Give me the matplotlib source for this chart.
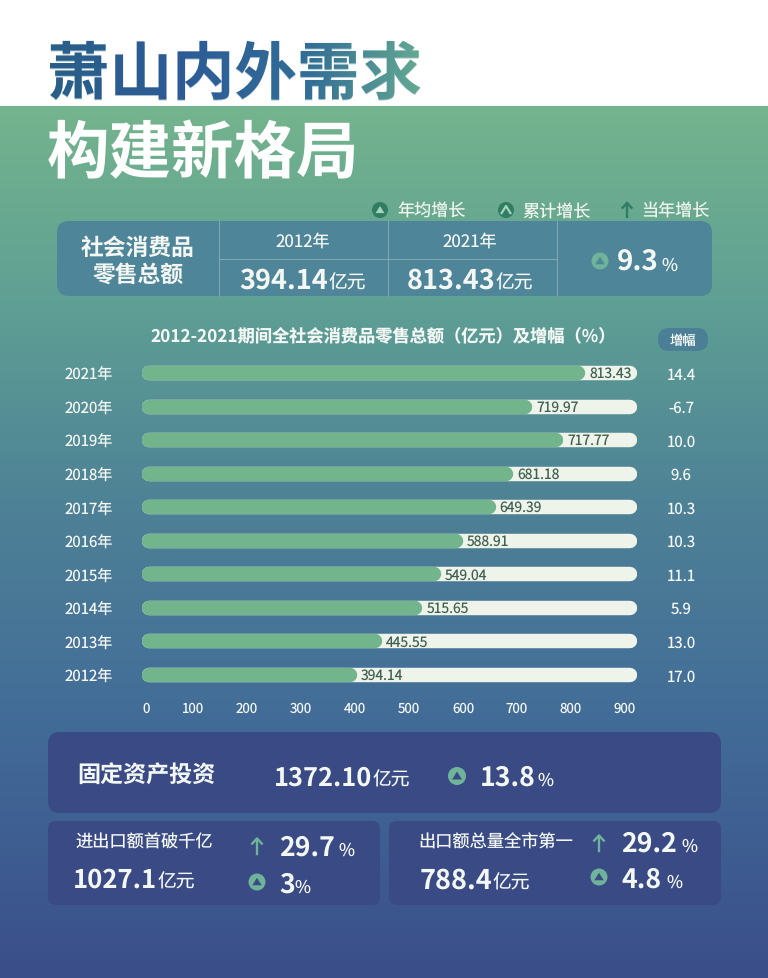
import numpy as np
import matplotlib
matplotlib.use("Agg")
import matplotlib.pyplot as plt
from matplotlib.patches import FancyBboxPatch, Circle, Polygon, PathPatch
from matplotlib.textpath import TextPath
from matplotlib.font_manager import FontProperties
from matplotlib.transforms import Affine2D

plt.rcParams['font.family'] = ['Noto Sans CJK SC', 'DejaVu Sans']
plt.rcParams['text.hinting'] = 'none'

W, H = 768, 979

# chart data
years = ['2021年', '2020年', '2019年', '2018年', '2017年', '2016年', '2015年', '2014年', '2013年', '2012年']
totals = [813.43, 719.97, 717.77, 681.18, 649.39, 588.91, 549.04, 515.65, 445.55, 394.14]
# lengths as drawn in the picture (2019 and 2020 do not follow their labels)
bar_lengths = [813, 716, 773, 681, 649, 589, 549, 515, 440, 394]
growth = ['14.4', '-6.7', '10.0', '9.6', '10.3', '10.3', '11.1', '5.9', '13.0', '17.0']
tick_labels = ['0', '100', '200', '300', '400', '500', '600', '700', '800', '900']
tick_px = [146, 193, 247, 301, 355, 409, 463, 517, 571, 625]

WHITE = '#f4f8f4'
GREEN = '#72b48c'
TRACK = '#eef4ea'
ICON_LIGHT = '#6fb39b'
ICON_DARK = '#2f7d62'
CARD_TOP = '#4f8598'
CARD_BOTTOM = '#3a4a84'

fig = plt.figure(figsize=(W / 100, H / 100), dpi=100)
bg = fig.add_axes([0, 0, 1, 1], zorder=0)

# background gradient, white band on top
stop_y = [107, 300, 500, 720, 979]
stop_c = np.array([[116, 180, 141], [95, 160, 148], [78, 130, 150], [66, 108, 152], [58, 78, 138]]) / 255
rows = np.arange(H)
grad = np.stack([np.interp(rows, stop_y, stop_c[:, i]) for i in range(3)], axis=1)
grad[rows < 107] = 1.0
bg.imshow(grad[:, None, :], extent=[0, W, H, 0], aspect='auto', zorder=0)


def t(x, y, s, size, color=WHITE, ha='center', va='center', weight='medium', ax=bg):
    return ax.text(x, y, s, fontsize=size, color=color, ha=ha, va=va, fontweight=weight, zorder=5)


def card(x0, y0, x1, y1, color, r=12):
    bg.add_patch(FancyBboxPatch((x0 + r, y0 + r), x1 - x0 - 2 * r, y1 - y0 - 2 * r,
                                boxstyle=f'round,pad={r},rounding_size={r}', fc=color, ec='none', zorder=2))


def icon(x, y, r, fill, tri, chevron=False):
    bg.add_patch(Circle((x, y), r, fc=fill, ec='none', zorder=4))
    s = r * 0.55
    pts = [(x - s, y + s * 0.7), (x + s, y + s * 0.7), (x, y - s * 0.9)]
    if chevron:
        bg.plot([pts[0][0], pts[2][0], pts[1][0]], [pts[0][1], pts[2][1], pts[1][1]], color=tri, lw=1.6, zorder=5)
    else:
        bg.add_patch(Polygon(pts, fc=tri, ec='none', zorder=5))


def arrow(x, y, h, color, lw=1.7):
    bg.plot([x, x], [y - h / 2, y + h / 2], color=color, lw=lw, zorder=5)
    bg.plot([x - h * 0.32, x, x + h * 0.32], [y - h * 0.16, y - h / 2, y - h * 0.16], color=color, lw=lw, zorder=5)


def num_unit(x, y, num, unit, size, usize=13.5):
    # number ends at x, unit starts at x, shared baseline
    t(x, y, num, size, ha='right', va='baseline', weight='bold')
    t(x + 1, y, unit, usize, ha='left', va='baseline')


def pct(x, x_sign, y, num, size=19.2):
    t(x, y, num, size, ha='left', va='baseline', weight='bold')
    t(x_sign + 2, y, '%', 12.5, ha='left', va='baseline')


# title
title_font = FontProperties(family='Noto Sans CJK SC', weight='bold')
title_text = t(47, 95, '萧山内外需求', 45, color='#3a7a95', ha='left', va='baseline', weight='bold')
title_text.set_alpha(0.4)
tp = TextPath((0, 0), '萧山内外需求', size=62.5, prop=title_font)
clip = PathPatch(tp, transform=Affine2D().scale(1, -1).translate(47, 95) + bg.transData, fc='none', ec='none')
bg.add_patch(clip)
title_stops = np.array([[40, 95, 135], [45, 90, 150], [50, 110, 150], [100, 170, 145]]) / 255
xs = np.linspace(0, 1, 200)
title_grad = np.stack([np.interp(xs, [0, .35, .7, 1], title_stops[:, i]) for i in range(3)], axis=1)
im = bg.imshow(title_grad[None, :, :], extent=[47, 422, 105, 35], aspect='auto', zorder=6)
im.set_clip_path(clip)
t(47, 173, '构建新格局', 45, ha='left', va='baseline', weight='bold', color='#ffffff')

# legend row
icon(380, 211, 8, ICON_DARK, '#a8d4bd')
t(431.5, 212, '年均增长', 12.3, color='#f0f6ee')
icon(506, 211, 8, ICON_DARK, '#a8d4bd', chevron=True)
t(556.5, 212, '累计增长', 12.3, color='#f0f6ee')
arrow(627, 211, 14, ICON_DARK)
t(675.5, 212, '当年增长', 12.3, color='#f0f6ee')

# top card
card(57, 222, 712, 297, CARD_TOP)
for xd in (219, 388, 557):
    bg.plot([xd, xd], [222, 297], color='#7fa9b0', lw=0.8, zorder=3)
bg.plot([219, 557], [260, 260], color='#7fa9b0', lw=0.8, zorder=3)
t(138, 248, '社会消费品', 16.4, weight='bold')
t(138, 275, '零售总额', 16.4, weight='bold')
t(303, 242, '2012年', 12.2)
t(470, 242, '2021年', 12.2)
num_unit(328, 289, '394.14', '亿元', 19.5)
num_unit(495, 289, '813.43', '亿元', 19.5)
icon(600, 262, 8.5, ICON_LIGHT, '#4f8598')
pct(617, 659, 271, '9.3', 20)

# bar chart
t(383.5, 336, '2012-2021期间全社会消费品零售总额（亿元）及增幅（%）', 12.4, weight='bold')
bar_left, bar_right = 142, 637
px_per_unit = 0.545
row_top, row_step = 374, 33.55
y_pos = np.arange(len(years))
ax = fig.add_axes([bar_left / W, 1 - (row_top + 9.5 * row_step) / H, (bar_right - bar_left) / W, 10 * row_step / H],
                  zorder=1)
ax.patch.set_alpha(0)
ax.set_xlim(0, (bar_right - bar_left) / px_per_unit)
ax.set_ylim(9.5, -0.5)
cap = 7.2 / px_per_unit
ax.hlines(y_pos, cap, ax.get_xlim()[1] - cap, color=TRACK, lw=10.4, capstyle='round', zorder=2)
ax.hlines(y_pos, cap, np.array(bar_lengths) - cap, color=GREEN, lw=10.4, capstyle='round', zorder=3)
for i, (val, length) in enumerate(zip(totals, bar_lengths)):
    ax.text(length + 4 / px_per_unit, i, f'{val:.2f}', fontsize=10, color='#3f5f52', va='center', ha='left', zorder=4)
for s in ax.spines.values():
    s.set_visible(False)
ax.set_yticks(y_pos, labels=years)
ax.tick_params(axis='y', length=0, pad=21, labelsize=10.8, labelcolor=WHITE)
ax.set_xticks((np.array(tick_px) - bar_left) / px_per_unit, labels=tick_labels)
ax.tick_params(axis='x', length=0, pad=6.5, labelsize=9.6, labelcolor=WHITE)

# growth column
card(658, 329, 708, 352, '#4a7f95', r=11)
t(683, 341, '增幅', 9.6)
for i, g in enumerate(growth):
    t(681, row_top + i * row_step + 1, g, 10.8)

# lower cards
card(48, 733, 721, 814, CARD_BOTTOM)
card(48, 822, 380, 906, CARD_BOTTOM, r=8)
card(389, 822, 721, 906, CARD_BOTTOM, r=8)

t(77, 776, '固定资产投资', 16.6, ha='left', weight='bold')
num_unit(372, 786, '1372.10', '亿元', 18.3)
icon(457, 777, 9, ICON_LIGHT, CARD_BOTTOM)
pct(480, 535, 786, '13.8')

t(76, 843, '进出口额首破千亿', 12.4, ha='left')
arrow(257, 847, 15, ICON_LIGHT)
pct(279, 336, 856, '29.7')
num_unit(157, 888, '1027.1', '亿元', 18.5)
icon(257, 883, 8.5, ICON_LIGHT, CARD_BOTTOM)
pct(279, 292, 893, '3')

t(418, 843, '出口额总量全市第一', 12.4, ha='left')
arrow(599, 844, 15, ICON_LIGHT)
pct(621, 679, 852, '29.2')
num_unit(492, 889, '788.4', '亿元', 19.5)
icon(599, 878, 8.5, ICON_LIGHT, CARD_BOTTOM)
pct(621, 664, 888, '4.8')

bg.set_xlim(0, W)
bg.set_ylim(H, 0)
bg.axis('off')

fig.savefig('out.png', dpi=100)
